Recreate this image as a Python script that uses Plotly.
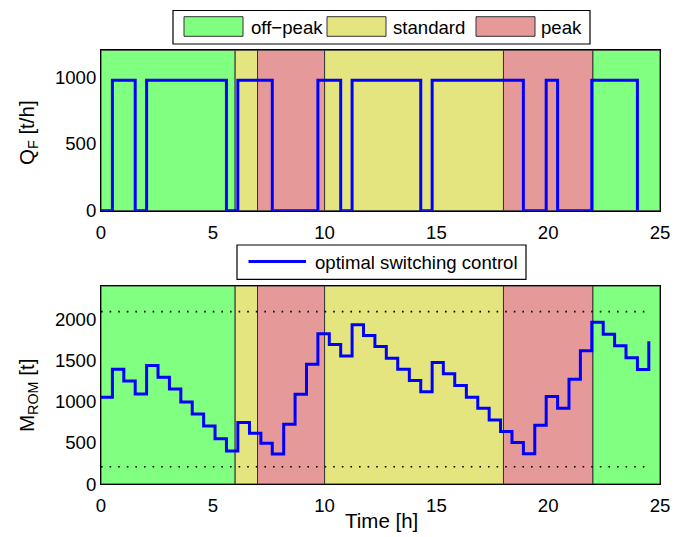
import plotly.graph_objects as go

# ---------------- data ----------------
period_names = ["off\u2212peak", "standard", "peak", "standard", "peak", "off\u2212peak"]
period_start = [0, 6, 7, 10, 18, 22]
period_end = [6, 7, 10, 18, 22, 25]
period_colors = {"off\u2212peak": "#80FF80", "standard": "#E5E580", "peak": "#E59999"}
legend_order = ["off\u2212peak", "standard", "peak"]

feed_times = [0, 0.51, 1.53, 2.04, 5.61, 6.12, 7.66, 9.70, 10.72, 11.23,
              14.30, 14.81, 18.89, 19.91, 20.42, 21.95, 23.99]
feed_rate = [0, 975, 0, 975, 0, 975, 0, 975, 0, 975,
             0, 975, 0, 975, 0, 975, 0]

m_times = [0, 0.51, 1.02, 1.53, 2.04, 2.55, 3.06, 3.57, 4.08, 4.59, 5.10, 5.61,
           6.12, 6.64, 7.15, 7.66, 8.17, 8.68, 9.19, 9.70, 10.21, 10.72, 11.23,
           11.74, 12.25, 12.76, 13.27, 13.79, 14.30, 14.81, 15.31, 15.82, 16.34,
           16.85, 17.36, 17.87, 18.38, 18.89, 19.40, 19.91, 20.42, 20.93, 21.44,
           21.95, 22.46, 22.97, 23.48, 23.99, 24.50]
m_rom = [1052, 1392, 1250, 1092, 1436, 1295, 1153, 995, 850, 704, 550, 400,
         744, 615, 494, 364, 724, 1088, 1452, 1820, 1691, 1553, 1930, 1800,
         1667, 1525, 1392, 1254, 1117, 1473, 1335, 1193, 1052, 918, 777, 635,
         502, 368, 712, 1060, 918, 1270, 1614, 1962, 1816, 1675, 1529, 1388,
         1731]
m_min = 210
m_max = 2090

x_ticks = [0, 5, 10, 15, 20, 25]
q_ticks = [0, 500, 1000]
m_ticks = [0, 500, 1000, 1500, 2000]
q_range = [0, 1200]
m_range = [0, 2400]
x_range = [0, 25]

# ---------------- layout helpers ----------------
W, H = 685, 537
FONT = "Liberation Sans, Arial, Helvetica, sans-serif"
FS = 18.6
FS_TITLE = 20.5


def px(v):
    return v / W


def py(v):
    return 1 - v / H


AX_L, AX_R = 101, 660
TOP_T, TOP_B = 50.3, 210.7
BOT_T, BOT_B = 286, 484

fig = go.Figure()

# feed rate
fig.add_trace(go.Scatter(x=feed_times, y=feed_rate, mode="lines",
                         line=dict(shape="hv", color="#0000FF", width=3),
                         cliponaxis=False, xaxis="x", yaxis="y",
                         showlegend=False, hoverinfo="x+y"))

# limits
for lim in (m_min, m_max):
    fig.add_trace(go.Scatter(x=[m_times[0], m_times[-1]], y=[lim, lim], mode="lines",
                             line=dict(color="black", width=1.6, dash="1.6px,7px"),
                             xaxis="x2", yaxis="y2", showlegend=False, hoverinfo="skip"))

# inventory
fig.add_trace(go.Scatter(x=m_times, y=m_rom, mode="lines",
                         line=dict(shape="hv", color="#0000FF", width=3),
                         cliponaxis=False, xaxis="x2", yaxis="y2",
                         name="optimal switching control", showlegend=False))

shapes = []
for s, e, n in zip(period_start, period_end, period_names):
    for xr, yr in (("x", "y domain"), ("x2", "y2 domain")):
        shapes.append(dict(type="rect", xref=xr, yref=yr, x0=s, x1=e, y0=0, y1=1,
                           fillcolor=period_colors[n], layer="below",
                           line=dict(color="#333333", width=1)))

annotations = []

# ---- top legend (manual, Matlab style) ----
shapes.append(dict(type="rect", xref="paper", yref="paper",
                   x0=px(173), x1=px(590), y0=py(44), y1=py(10.5),
                   fillcolor="white", line=dict(color="black", width=1.2)))
sw_x = [184, 327, 476]
tx_x = [248.5, 391, 539]
for name, sx, tx in zip(legend_order, sw_x, tx_x):
    shapes.append(dict(type="rect", xref="paper", yref="paper",
                       x0=px(sx), x1=px(sx + 59), y0=py(36.3), y1=py(16.7),
                       fillcolor=period_colors[name], line=dict(color="#333333", width=1)))
    annotations.append(dict(xref="paper", yref="paper", x=px(tx), y=py(27.5),
                            xanchor="left", yanchor="middle", showarrow=False,
                            text=name, font=dict(family=FONT, size=FS, color="black")))

# ---- bottom legend ----
shapes.append(dict(type="rect", xref="paper", yref="paper",
                   x0=px(237), x1=px(526), y0=py(279.3), y1=py(245),
                   fillcolor="white", line=dict(color="black", width=1.2)))
shapes.append(dict(type="line", xref="paper", yref="paper",
                   x0=px(248.5), x1=px(306), y0=py(261.5), y1=py(261.5),
                   line=dict(color="#0000FF", width=3)))
annotations.append(dict(xref="paper", yref="paper", x=px(312.5), y=py(262),
                        xanchor="left", yanchor="middle", showarrow=False,
                        text="optimal switching control",
                        font=dict(family=FONT, size=FS, color="black")))

# ---- axis titles ----
annotations.append(dict(xref="paper", yref="paper", x=px(28), y=py(133),
                        xanchor="center", yanchor="middle", showarrow=False, textangle=-90,
                        text="Q<sub>F</sub> [t/h]", font=dict(family=FONT, size=FS_TITLE, color="black")))
annotations.append(dict(xref="paper", yref="paper", x=px(28), y=py(396),
                        xanchor="center", yanchor="middle", showarrow=False, textangle=-90,
                        text="M<sub>ROM</sub> [t]", font=dict(family=FONT, size=FS_TITLE, color="black")))
annotations.append(dict(xref="paper", yref="paper", x=px(381), y=py(520),
                        xanchor="center", yanchor="middle", showarrow=False,
                        text="Time [h]", font=dict(family=FONT, size=FS_TITLE, color="black")))

axis_common = dict(showline=True, linecolor="black", linewidth=1, mirror=True,
                   ticks="", showgrid=False, zeroline=False, automargin=False,
                   tickfont=dict(family=FONT, size=FS, color="black"))
xaxis_extra = dict(ticklabelstandoff=5)

fig.update_layout(
    template="none",
    width=W, height=H, margin=dict(l=0, r=0, t=0, b=0, pad=0, autoexpand=False),
    paper_bgcolor="white", plot_bgcolor="white",
    showlegend=False,
    xaxis=dict(domain=[px(AX_L), px(AX_R)], anchor="y", range=x_range,
               tickvals=x_ticks, ticktext=[str(v) for v in x_ticks], **axis_common, **xaxis_extra),
    yaxis=dict(domain=[py(TOP_B), py(TOP_T)], anchor="x", range=q_range,
               tickvals=q_ticks, ticktext=[str(v) for v in q_ticks], **axis_common),
    xaxis2=dict(domain=[px(AX_L), px(AX_R)], anchor="y2", range=x_range,
                tickvals=x_ticks, ticktext=[str(v) for v in x_ticks], **axis_common, **xaxis_extra),
    yaxis2=dict(domain=[py(BOT_B), py(BOT_T)], anchor="x2", range=m_range,
                tickvals=m_ticks, ticktext=[str(v) for v in m_ticks], **axis_common),
    shapes=shapes, annotations=annotations,
)

fig.write_html("out.html", include_plotlyjs=True, full_html=True,
               config={"displayModeBar": False},
               post_script="document.body.style.margin='0';")
